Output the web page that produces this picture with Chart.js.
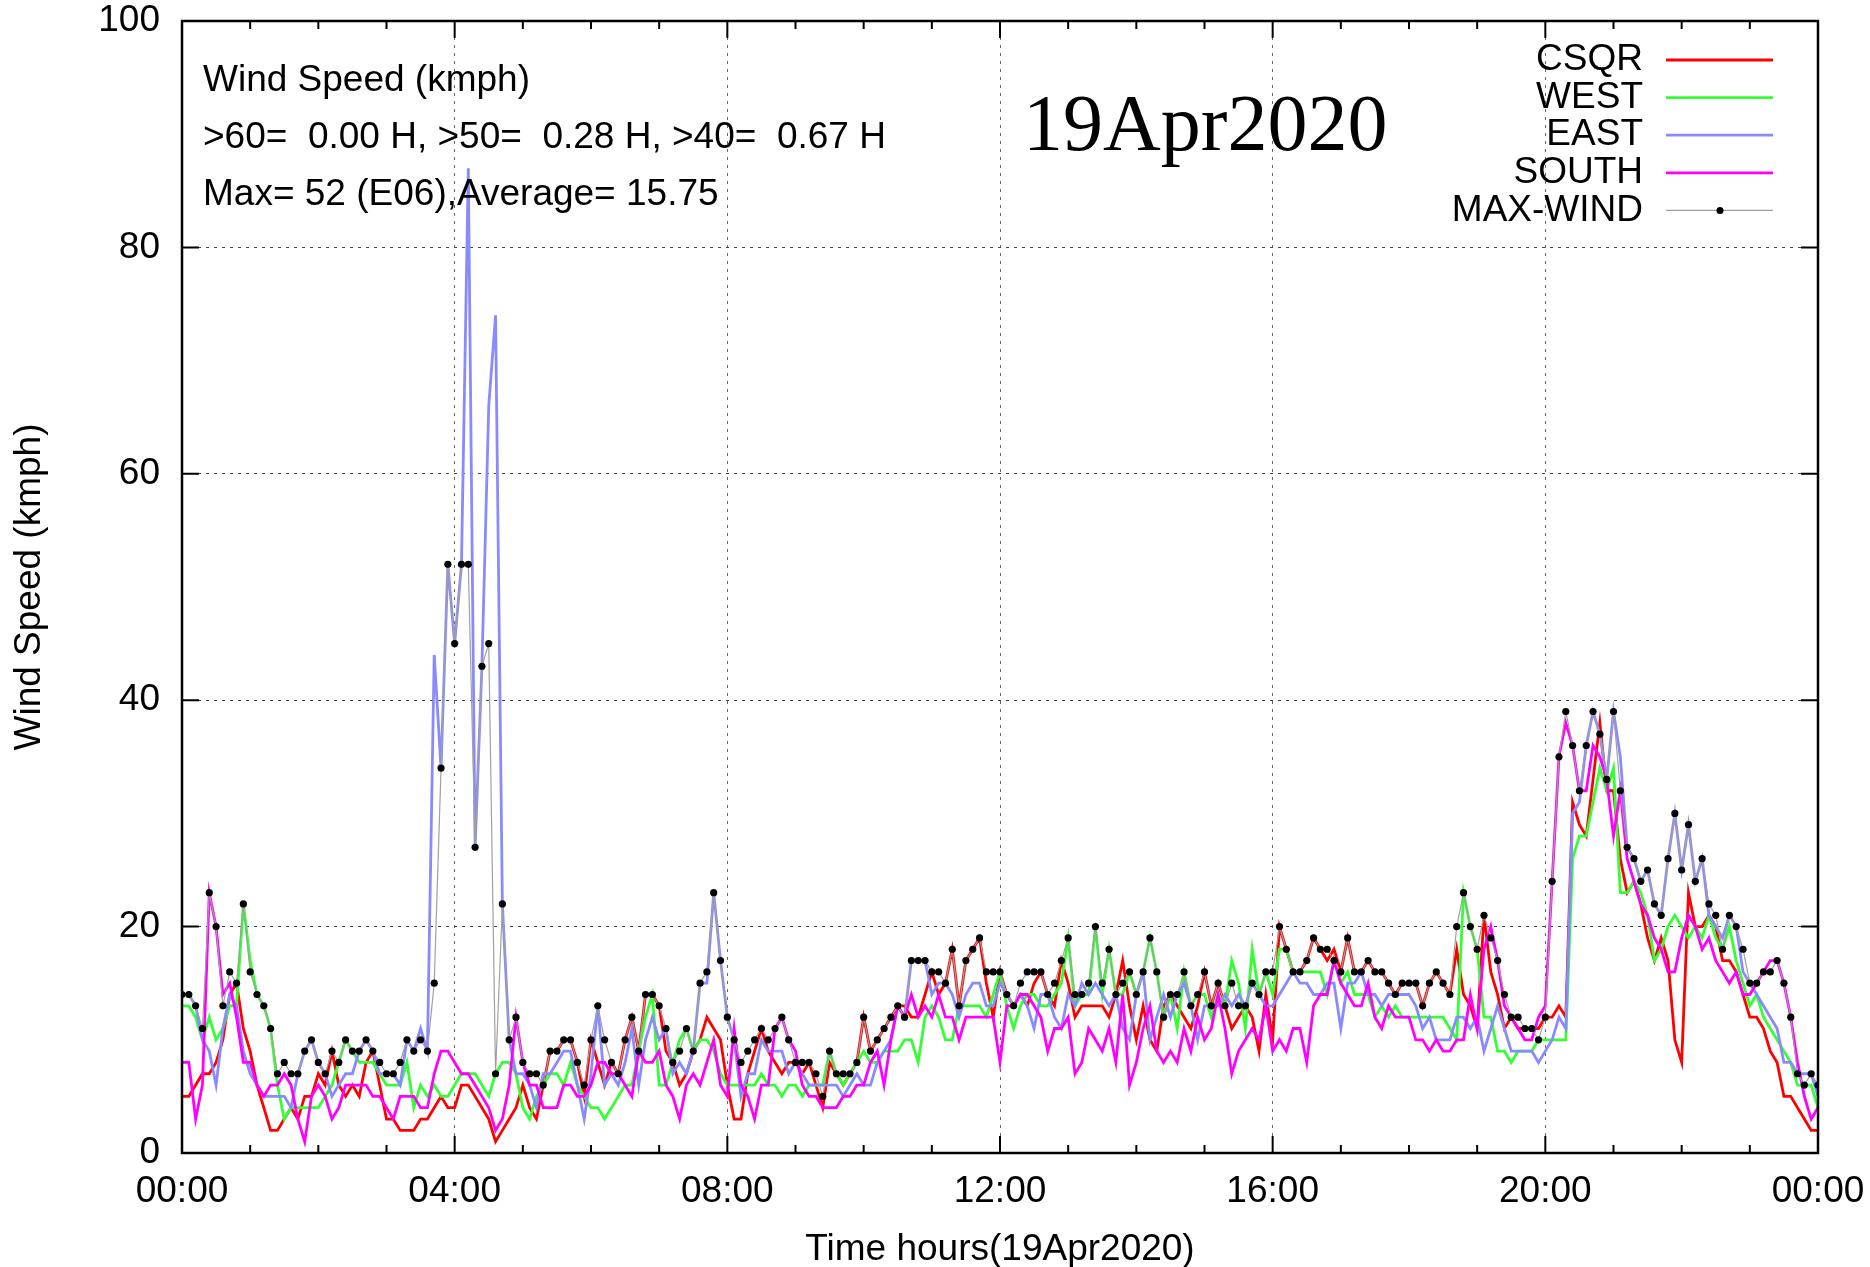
<!DOCTYPE html>
<html>
<head>
<meta charset="utf-8">
<title>Wind Speed 19Apr2020</title>
<script src="https://cdn.jsdelivr.net/npm/chart.js@4.4.1/dist/chart.umd.min.js"></script>
<style>
    html, body { margin: 0; padding: 0; background: #fff; }
    #wrap { width: 1870px; height: 1267px; }
</style>
</head>
<body>
<div id="wrap"><canvas id="windChart" width="1870" height="1267"></canvas></div>
<script>
// ======================================= Data ========================================== //
// one reading every 0.1 h (6 min), 00:00 .. 24:00
const stepHours = 0.1;
const xTickLabels = ['00:00', '04:00', '08:00', '12:00', '16:00', '20:00', '00:00'];
const yTickValues = [0, 20, 40, 60, 80, 100];
const seriesNames = ['CSQR', 'WEST', 'EAST', 'SOUTH', 'MAX-WIND'];

const csqr = [
    5, 5, 6, 7, 7, 8, 10, 14, 15, 11,
    9, 6, 4, 2, 2, 3, 4, 3, 5, 5,
    7, 6, 9, 6, 5, 6, 5, 8, 9, 6,
    3, 3, 2, 2, 2, 3, 3, 4, 5, 4,
    4, 6, 6, 5, 4, 3, 1, 2, 3, 4,
    6, 4, 3, 6, 9, 9, 10, 10, 8, 5,
    10, 8, 6, 8, 7, 10, 12, 9, 14, 14,
    13, 9, 8, 6, 7, 9, 10, 12, 11, 10,
    6, 3, 3, 7, 9, 11, 9, 8, 7, 8,
    8, 7, 8, 6, 4, 8, 7, 6, 7, 8,
    12, 9, 10, 11, 12, 13, 13, 12, 12, 14,
    16, 14, 15, 18, 13, 17, 18, 19, 15, 12,
    16, 14, 13, 14, 13, 15, 16, 14, 13, 17,
    15, 12, 13, 13, 13, 13, 12, 14, 17, 13,
    10, 13, 10, 9, 13, 14, 13, 12, 11, 13,
    16, 13, 15, 13, 11, 12, 13, 12, 9, 14,
    10, 20, 18, 16, 16, 17, 19, 18, 17, 18,
    16, 19, 16, 16, 17, 16, 16, 15, 14, 15,
    15, 15, 13, 15, 16, 15, 14, 18, 14, 13,
    11, 21, 16, 14, 11, 12, 11, 11, 11, 11,
    12, 12, 13, 12, 31, 29, 28, 33, 38, 32,
    32, 26, 23, 24, 22, 19, 17, 19, 17, 10,
    8, 23, 20, 20, 21, 20, 17, 17, 16, 14,
    12, 12, 11, 9, 8, 5, 5, 4, 3, 2, 2
];

const west = [
    13, 13, 12, 10, 12, 10, 11, 13, 13, 22,
    17, 14, 13, 11, 6, 3, 4, 4, 4, 4,
    4, 5, 6, 8, 10, 9, 8, 8, 8, 7,
    6, 6, 6, 8, 4, 6, 5, 6, 5, 5,
    6, 7, 7, 7, 6, 5, 7, 8, 8, 7,
    4, 3, 5, 6, 7, 7, 6, 8, 6, 5,
    4, 4, 3, 4, 5, 6, 6, 9, 12, 14,
    6, 6, 8, 10, 11, 9, 10, 10, 9, 7,
    6, 6, 6, 6, 6, 7, 6, 6, 5, 6,
    6, 5, 6, 6, 6, 9, 7, 6, 7, 8,
    9, 8, 8, 9, 9, 9, 10, 10, 8, 12,
    13, 12, 10, 10, 13, 13, 13, 13, 12, 14,
    16, 13, 11, 13, 14, 14, 13, 13, 14, 15,
    19, 13, 14, 14, 20, 14, 18, 14, 14, 16,
    14, 16, 19, 16, 12, 14, 11, 16, 13, 14,
    14, 12, 14, 13, 17, 15, 11, 18, 14, 16,
    14, 18, 18, 16, 16, 16, 16, 16, 14, 17,
    15, 16, 14, 14, 14, 12, 13, 12, 13, 12,
    12, 12, 12, 12, 12, 12, 11, 10, 23, 20,
    18, 12, 12, 9, 9, 8, 9, 9, 9, 10,
    10, 10, 10, 10, 26, 28, 28, 31, 34, 32,
    34, 23, 23, 24, 23, 21, 17, 18, 20, 21,
    20, 19, 20, 19, 21, 19, 18, 20, 17, 15,
    13, 14, 12, 11, 10, 9, 8, 6, 6, 6, 4
];

const east = [
    14, 14, 13, 10, 9, 6, 11, 14, 13, 9,
    7, 6, 5, 5, 5, 5, 4, 7, 9, 10,
    8, 7, 5, 6, 7, 7, 9, 10, 9, 7,
    7, 7, 6, 10, 9, 11, 9, 44, 34, 52,
    45, 52, 87, 27, 43, 66, 74, 22, 10, 7,
    7, 6, 4, 7, 7, 8, 9, 9, 6, 3,
    7, 13, 6, 7, 6, 8, 11, 6, 10, 12,
    10, 11, 7, 8, 7, 9, 15, 15, 23, 17,
    12, 10, 5, 7, 7, 10, 9, 9, 9, 7,
    8, 7, 6, 6, 6, 6, 6, 5, 6, 7,
    6, 6, 8, 9, 10, 13, 12, 17, 17, 17,
    14, 15, 15, 14, 12, 14, 15, 15, 13, 13,
    15, 14, 13, 14, 13, 11, 14, 14, 12, 11,
    14, 13, 15, 14, 15, 14, 13, 14, 11, 10,
    14, 16, 10, 12, 14, 12, 14, 15, 13, 10,
    13, 13, 13, 14, 13, 14, 13, 15, 14, 13,
    13, 14, 15, 16, 15, 15, 14, 14, 15, 15,
    11, 15, 15, 16, 14, 14, 13, 14, 14, 14,
    14, 13, 11, 12, 10, 10, 10, 12, 12, 11,
    12, 9, 11, 13, 11, 9, 9, 9, 9, 8,
    9, 10, 12, 11, 30, 31, 36, 39, 37, 33,
    39, 35, 27, 26, 24, 25, 22, 21, 26, 30,
    25, 29, 24, 26, 21, 20, 19, 21, 20, 16,
    15, 14, 13, 12, 11, 8, 8, 7, 7, 7, 5
];

const south = [
    8, 8, 3, 6, 23, 20, 14, 15, 12, 8,
    8, 6, 5, 6, 6, 7, 6, 3, 1, 5,
    6, 5, 3, 4, 6, 6, 6, 6, 5, 5,
    4, 3, 5, 5, 5, 4, 4, 7, 9, 9,
    8, 7, 7, 6, 5, 4, 2, 3, 6, 12,
    8, 6, 6, 4, 4, 4, 6, 6, 5, 5,
    6, 8, 8, 7, 7, 6, 5, 9, 8, 8,
    9, 6, 5, 3, 6, 7, 6, 8, 10, 6,
    5, 11, 6, 5, 3, 6, 6, 11, 12, 10,
    9, 6, 5, 5, 4, 4, 4, 5, 5, 6,
    6, 8, 9, 6, 10, 13, 12, 14, 12, 13,
    12, 14, 12, 12, 10, 12, 12, 12, 12, 12,
    8, 13, 13, 14, 14, 13, 12, 9, 11, 11,
    12, 7, 8, 11, 10, 9, 11, 8, 14, 6,
    8, 11, 13, 9, 8, 9, 8, 11, 9, 12,
    10, 11, 14, 11, 7, 9, 10, 11, 10, 13,
    9, 10, 9, 11, 11, 8, 13, 14, 14, 17,
    15, 14, 13, 13, 15, 12, 11, 13, 12, 12,
    12, 10, 10, 9, 10, 9, 9, 10, 10, 14,
    11, 18, 20, 17, 13, 12, 11, 10, 10, 12,
    13, 24, 35, 38, 36, 32, 32, 36, 35, 33,
    28, 32, 26, 24, 22, 21, 19, 18, 16, 16,
    19, 21, 20, 18, 19, 17, 16, 15, 16, 14,
    14, 15, 16, 17, 17, 15, 12, 8, 5, 3, 4
];

const maxWind = [
    14, 14, 13, 11, 23, 20, 13, 16, 15, 22,
    16, 14, 13, 11, 7, 8, 7, 7, 9, 10,
    8, 7, 9, 8, 10, 9, 9, 10, 9, 8,
    7, 7, 8, 10, 9, 10, 9, 15, 34, 52,
    45, 52, 52, 27, 43, 45, 7, 22, 10, 12,
    8, 7, 7, 6, 9, 9, 10, 10, 8, 6,
    10, 13, 10, 8, 7, 10, 12, 9, 14, 14,
    13, 11, 8, 9, 11, 9, 15, 16, 23, 17,
    12, 10, 8, 9, 10, 11, 10, 11, 12, 10,
    8, 8, 8, 7, 5, 9, 7, 7, 7, 8,
    12, 9, 10, 11, 12, 13, 12, 17, 17, 17,
    16, 16, 15, 18, 13, 17, 18, 19, 16, 16,
    16, 14, 13, 15, 16, 16, 16, 14, 15, 17,
    19, 14, 14, 15, 20, 15, 18, 14, 15, 16,
    14, 16, 19, 16, 12, 14, 14, 16, 13, 14,
    16, 13, 15, 13, 15, 13, 13, 15, 14, 16,
    16, 20, 18, 16, 16, 17, 19, 18, 18, 17,
    16, 19, 16, 16, 17, 16, 16, 15, 14, 15,
    15, 15, 13, 15, 16, 15, 14, 20, 23, 20,
    18, 21, 19, 17, 14, 12, 12, 11, 11, 10,
    12, 24, 35, 39, 36, 32, 36, 39, 37, 33,
    39, 32, 27, 26, 24, 25, 22, 21, 26, 30,
    25, 29, 24, 26, 22, 21, 18, 21, 20, 18,
    15, 15, 16, 16, 17, 15, 12, 7, 6, 7, 6
];

const infoLines = [
    'Wind Speed (kmph)',
    '>60=  0.00 H, >50=  0.28 H, >40=  0.67 H',
    'Max= 52 (E06),Average= 15.75'
];
const dateText = '19Apr2020';

// ======================================= Chart ========================================== //
document.addEventListener('DOMContentLoaded', function() {
    const sansFont = '"Liberation Sans", Arial, sans-serif';
    const colors = {
        CSQR: '#ff0000',
        WEST: '#33ff33',
        EAST: '#8a8aff',
        SOUTH: '#ff00ff',
        'MAX-WIND': '#a0a0a0'
    };

    function toPoints(values) {
        return values.map((v, i) => ({ x: i * stepHours, y: v }));
    }

    function lineSet(name, values, width, order) {
        return {
            label: name,
            data: toPoints(values),
            borderColor: colors[name],
            borderWidth: width,
            pointRadius: 0,
            tension: 0,
            order: order
        };
    }

    // Frame, inward ticks, text boxes and the legend
    const decorations = {
        id: 'decorations',
        afterDraw(chart) {
            const ctx = chart.ctx;
            const area = chart.chartArea;
            const xs = chart.scales.x;
            const ys = chart.scales.y;
            ctx.save();

            // ticks
            ctx.strokeStyle = '#000';
            ctx.lineWidth = 2;
            for (let h = 0; h <= 24; h++) {
                const px = xs.getPixelForValue(h);
                const len = h % 4 === 0 ? 17 : 8;
                ctx.beginPath();
                ctx.moveTo(px, area.bottom);
                ctx.lineTo(px, area.bottom - len);
                ctx.moveTo(px, area.top);
                ctx.lineTo(px, area.top + len);
                ctx.stroke();
            }
            yTickValues.forEach(v => {
                const py = ys.getPixelForValue(v);
                ctx.beginPath();
                ctx.moveTo(area.left, py);
                ctx.lineTo(area.left + 17, py);
                ctx.moveTo(area.right, py);
                ctx.lineTo(area.right - 17, py);
                ctx.stroke();
            });

            // frame
            ctx.lineWidth = 2.5;
            ctx.strokeRect(area.left, area.top, area.right - area.left, area.bottom - area.top);

            // axis titles
            ctx.fillStyle = '#000';
            ctx.font = '37px ' + sansFont;
            ctx.textAlign = 'center';
            ctx.textBaseline = 'middle';
            ctx.fillText('Time hours(19Apr2020)', (area.left + area.right) / 2, 1250);
            ctx.save();
            ctx.translate(30, (area.top + area.bottom) / 2);
            ctx.rotate(-Math.PI / 2);
            ctx.fillText('Wind Speed (kmph)', 0, 0);
            ctx.restore();

            // info text, top left
            ctx.textAlign = 'left';
            infoLines.forEach((t, k) => {
                ctx.fillText(t, 203, 81 + k * 57);
            });

            // date
            ctx.font = '80px "Liberation Serif", "Times New Roman", serif';
            ctx.textBaseline = 'alphabetic';
            ctx.fillText(dateText, 1023, 150);

            // legend
            ctx.font = '37px ' + sansFont;
            ctx.textBaseline = 'middle';
            seriesNames.forEach((name, k) => {
                const y = 60 + k * 37.6;
                ctx.textAlign = 'right';
                ctx.fillStyle = '#000';
                ctx.fillText(name, 1643, y);
                ctx.strokeStyle = colors[name];
                ctx.lineWidth = name === 'MAX-WIND' ? 1.2 : 2.8;
                ctx.beginPath();
                ctx.moveTo(1666, y);
                ctx.lineTo(1773, y);
                ctx.stroke();
                if (name === 'MAX-WIND') {
                    ctx.beginPath();
                    ctx.arc(1720, y, 3.5, 0, Math.PI * 2);
                    ctx.fill();
                }
            });
            ctx.restore();
        }
    };

    const ctx = document.getElementById('windChart').getContext('2d');
    new Chart(ctx, {
        type: 'line',
        data: {
            datasets: [
                {
                    label: 'MAX-WIND',
                    data: toPoints(maxWind),
                    borderColor: colors['MAX-WIND'],
                    borderWidth: 1.2,
                    pointRadius: 3.6,
                    pointBackgroundColor: '#000',
                    pointBorderWidth: 0,
                    tension: 0,
                    order: 1
                },
                lineSet('SOUTH', south, 2.8, 2),
                lineSet('EAST', east, 2.8, 3),
                lineSet('WEST', west, 2.8, 4),
                lineSet('CSQR', csqr, 2.8, 5)
            ]
        },
        options: {
            responsive: false,
            animation: false,
            devicePixelRatio: 1,
            layout: {
                padding: { top: 21, right: 52, bottom: 0, left: 0 }
            },
            plugins: {
                legend: { display: false },
                tooltip: { enabled: false },
                title: { display: false }
            },
            scales: {
                x: {
                    type: 'linear',
                    min: 0,
                    max: 24,
                    afterBuildTicks: function(scale) {
                        scale.ticks = xTickLabels.map((_, k) => ({ value: k * 4 }));
                    },
                    afterFit: function(scale) {
                        // fixed plot box: no label overflow into the side margins
                        scale.height = 114;
                        scale.paddingLeft = 0;
                        scale.paddingRight = 0;
                    },
                    ticks: {
                        autoSkip: false,
                        maxRotation: 0,
                        padding: 17,
                        color: '#000',
                        font: { family: sansFont, size: 37 },
                        callback: function(value, index) {
                            return xTickLabels[index];
                        }
                    },
                    grid: {
                        color: '#666',
                        lineWidth: 1,
                        drawTicks: false
                    },
                    border: { display: false, dash: [3, 5] }
                },
                y: {
                    min: 0,
                    max: 100,
                    afterBuildTicks: function(scale) {
                        scale.ticks = yTickValues.map(v => ({ value: v }));
                    },
                    afterFit: function(scale) {
                        scale.width = 182;
                        scale.paddingTop = 0;
                        scale.paddingBottom = 0;
                    },
                    ticks: {
                        padding: 22,
                        color: '#000',
                        font: { family: sansFont, size: 37 }
                    },
                    grid: {
                        color: '#444',
                        lineWidth: 1,
                        drawTicks: false
                    },
                    border: { display: false, dash: [3, 5] }
                }
            }
        },
        plugins: [decorations]
    });
});
</script>
</body>
</html>
